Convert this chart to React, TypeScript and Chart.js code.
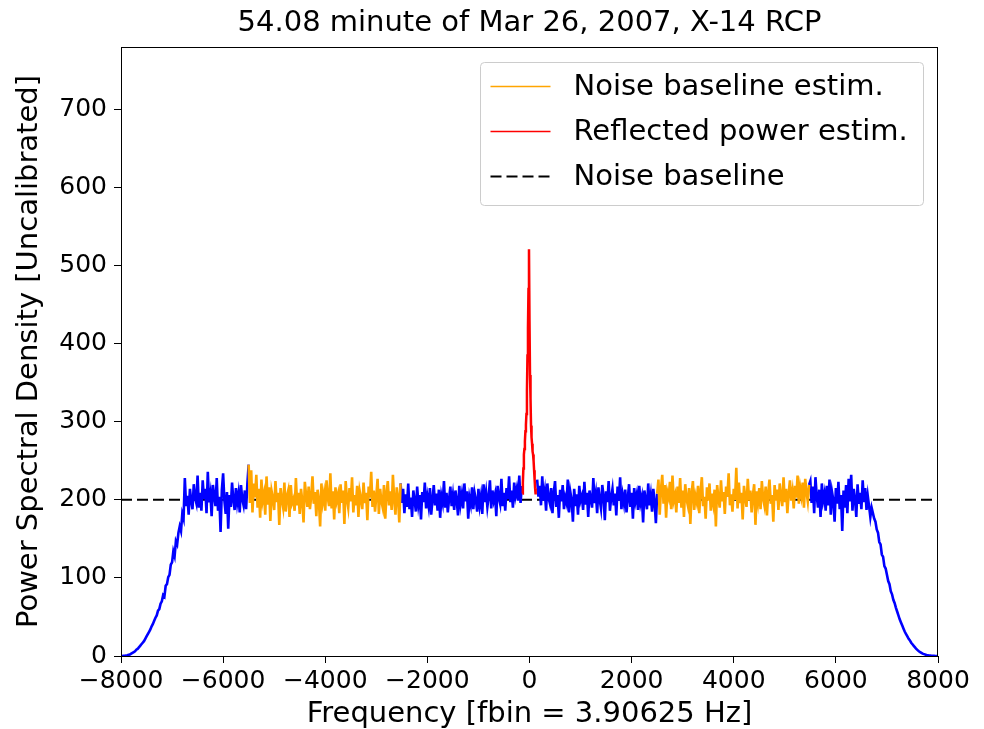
import React, { useEffect, useRef } from "react";
import { Chart, registerables } from "chart.js";

Chart.register(...registerables);

// ---- data ----
const FREQ_STEP = 25; // Hz between plotted samples
const RED_STEP = 10;

const leftRollStart = -8000;
const leftRoll = [0, 0, 0.2, 0.4, 0.7, 1, 1.5, 2, 3, 4,
  5, 6, 8, 9, 11, 13, 15, 17, 19, 22,
  25, 28, 31, 34, 38, 41, 45, 49, 52, 58,
  60, 67, 70, 78, 76, 90, 92, 101, 104, 117,
  120, 134, 128, 147, 143, 158, 166, 160, 182, 176];

const leftBlueStart = -6750;
const leftBlue = [228, 192, 205, 181, 214, 199, 188, 220, 203, 196,
  231, 190, 209, 186, 225, 201, 214, 183, 236, 197,
  208, 179, 219, 205, 192, 228, 186, 204, 159, 213,
  234, 199, 182, 210, 163, 206, 191, 222, 200, 187,
  215, 196, 208, 184, 219, 201, 193, 212, 188, 221];

const leftOrangeStart = -5500;
const leftOrange = [245, 196, 238, 184, 221, 203, 232, 190, 214, 177,
  226, 199, 208, 181, 230, 194, 216, 173, 211, 202,
  187, 224, 197, 209, 168, 215, 200, 190, 222, 185,
  205, 212, 178, 219, 196, 201, 186, 228, 193, 209,
  182, 214, 199, 171, 223, 206, 191, 217, 188, 204,
  230, 195, 210, 179, 213, 200, 166, 221, 197, 208,
  186, 225, 203, 192, 234, 189, 211, 175, 216, 199,
  207, 183, 220, 196, 212, 169, 224, 201, 190, 215,
  198, 229, 184, 206, 193, 218, 178, 211, 202, 188,
  222, 196, 209, 174, 217, 203, 236, 191, 212, 185,
  205, 227, 182, 214, 198, 190, 219, 176, 208, 224,
  193, 211, 187, 232, 200, 181, 216, 204, 171, 221];

const centerLeftStart = -2500;
const centerLeftBlue = [196, 214, 183, 207, 191, 221, 188, 203, 178, 212,
  199, 185, 217, 194, 206, 175, 210, 197, 222, 189,
  204, 192, 215, 181, 200, 219, 193, 208, 186, 213,
  177, 205, 196, 224, 190, 209, 184, 201, 217, 192,
  206, 187, 212, 199, 180, 218, 195, 207, 189, 221,
  198, 211, 176, 203, 194, 216, 188, 209, 200, 185,
  214, 193, 205, 182, 220, 197, 210, 191, 204, 225,
  189, 212, 199, 207, 179, 218, 203, 195, 227, 192,
  209, 186, 215, 201, 230, 197, 212, 190, 222, 205,
  214, 199, 231, 196, 218];

const redStart = -140;
const redPeak = [208, 222, 240, 258, 265, 275, 288, 296, 310, 340,
  385, 420, 470, 521, 430, 360, 330, 295, 280, 272,
  262, 258, 250, 238, 226, 215, 207];

const centerRightStart = 150;
const centerRightBlue = [226, 204, 218, 193, 230, 199, 211, 186, 221, 202,
  195, 215, 183, 209, 224, 191, 206, 177, 213, 198,
  219, 188, 203, 196, 226, 184, 210, 200, 172, 214,
  192, 207, 181, 218, 199, 205, 187, 223, 194, 209,
  178, 212, 201, 190, 228, 196, 208, 183, 216, 200,
  189, 219, 205, 174, 211, 197, 224, 186, 203, 214,
  193, 208, 180, 217, 199, 229, 188, 206, 195, 213,
  184, 202, 220, 191, 209, 176, 215, 198, 207, 187,
  218, 196, 204, 171, 212, 200, 188, 221, 193, 206,
  185, 214, 197, 170];

const rightOrangeStart = 2500;
const rightOrange = [208, 226, 181, 214, 232, 195, 219, 177, 210, 203,
  223, 188, 231, 199, 206, 184, 217, 196, 228, 190,
  212, 178, 220, 201, 193, 215, 169, 209, 224, 187,
  205, 197, 218, 183, 211, 229, 192, 204, 176, 216,
  199, 221, 186, 208, 195, 213, 166, 219, 202, 190,
  225, 198, 210, 182, 217, 204, 234, 193, 207, 185,
  214, 200, 241, 189, 222, 196, 209, 175, 218, 203,
  191, 227, 199, 212, 184, 206, 220, 168, 211, 197,
  215, 188, 224, 202, 193, 217, 180, 209, 226, 195,
  206, 172, 219, 199, 213, 187, 221, 204, 192, 229,
  197, 214, 183, 208, 225, 199, 211, 189, 218, 203,
  231, 195, 216, 205, 222, 190, 227, 210, 198, 219];

const rightBlueStart = 5500;
const rightBlue = [224, 196, 217, 183, 229, 205, 190, 213, 178, 221,
  199, 208, 186, 218, 193, 226, 181, 210, 200, 172,
  215, 195, 223, 188, 206, 160, 212, 190, 219, 183,
  227, 198, 232, 186, 214, 201, 178, 220, 195, 209,
  188, 225, 197, 215, 187, 205, 192, 178];

const rightRollStart = 6700;
const rightRoll = [190, 183, 176, 172, 162, 158, 146, 143, 130, 127,
  115, 112, 104, 96, 92, 83, 79, 72, 68, 62,
  57, 52, 47, 43, 39, 35, 31, 28, 25, 22,
  20, 17, 15, 13, 11, 9, 7.5, 6, 5, 4,
  3, 2.4, 1.8, 1.3, 1, 0.7, 0.5, 0.3, 0.2, 0.1,
  0, 0, 0];

const baselineLevel = 200;
const legendLabels = ["Noise baseline estim.", "Reflected power estim.", "Noise baseline"];
const xTicks = [-8000, -6000, -4000, -2000, 0, 2000, 4000, 6000, 8000];
const yTicks = [0, 100, 200, 300, 400, 500, 600, 700];
const xLimits = [-8000, 8000];
const yLimits = [0, 780];

const titleText = "54.08 minute of Mar 26, 2007, X-14 RCP";
const xLabel = "Frequency [fbin = 3.90625 Hz]";
const yLabel = "Power Spectral Density [Uncalibrated]";

// ---- helpers ----
type Pt = { x: number; y: number | null };
const toPoints = (start: number, step: number, values: number[]): Pt[] =>
  values.map((v, i) => ({ x: start + i * step, y: v }));
const GAP = (x: number): Pt => ({ x, y: null });

const FONT = "'DejaVu Sans', 'Liberation Sans', sans-serif";

const frameAndLegend = {
  id: "frameAndLegend",
  afterDatasetsDraw(chart: any) {
    const { ctx, chartArea } = chart;
    ctx.save();
    ctx.strokeStyle = "#000";
    ctx.lineWidth = 1;
    ctx.strokeRect(
      Math.round(chartArea.left) + 0.5,
      Math.round(chartArea.top) + 0.5,
      Math.round(chartArea.right - chartArea.left) - 1,
      Math.round(chartArea.bottom - chartArea.top)
    );
    ctx.restore();
  },
  afterDraw(chart: any) {
    const { ctx, chartArea } = chart;
    const w = 443;
    const h = 143;
    const x = Math.round(chartArea.right - 15 - w) + 0.5;
    const y = Math.round(chartArea.top + 15) + 0.5;
    ctx.save();
    const r = 4;
    ctx.beginPath();
    ctx.moveTo(x + r, y);
    ctx.lineTo(x + w - r, y);
    ctx.arcTo(x + w, y, x + w, y + r, r);
    ctx.lineTo(x + w, y + h - r);
    ctx.arcTo(x + w, y + h, x + w - r, y + h, r);
    ctx.lineTo(x + r, y + h);
    ctx.arcTo(x, y + h, x, y + h - r, r);
    ctx.lineTo(x, y + r);
    ctx.arcTo(x, y, x + r, y, r);
    ctx.closePath();
    ctx.fillStyle = "rgba(255,255,255,0.8)";
    ctx.fill();
    ctx.strokeStyle = "#cccccc";
    ctx.lineWidth = 1;
    ctx.stroke();

    const items = chart.data.datasets
      .filter((d: any) => legendLabels.includes(d.label))
      .sort((a: any, b: any) => legendLabels.indexOf(a.label) - legendLabels.indexOf(b.label));
    items.forEach((d: any, i: number) => {
      const ry = y + 24 + i * 45;
      ctx.beginPath();
      ctx.setLineDash(d.borderDash || []);
      ctx.strokeStyle = d.borderColor;
      ctx.lineWidth = d.borderDash ? 2 : 1.5;
      ctx.moveTo(x + 10, ry);
      ctx.lineTo(x + 70, ry);
      ctx.stroke();
      ctx.setLineDash([]);
      ctx.fillStyle = "#000";
      ctx.font = `29px ${FONT}`;
      ctx.textBaseline = "middle";
      ctx.textAlign = "left";
      ctx.fillText(d.label, x + 93, ry + 1);
    });
    ctx.restore();
  },
};

export default function App() {
  const ref = useRef<HTMLCanvasElement | null>(null);

  useEffect(() => {
    if (!ref.current) return;
    const leftOrangePts = toPoints(leftOrangeStart, FREQ_STEP, leftOrange);
    const rightOrangePts = toPoints(rightOrangeStart, FREQ_STEP, rightOrange);
    const bluePts: Pt[] = [
      ...toPoints(leftRollStart, FREQ_STEP, leftRoll),
      ...toPoints(leftBlueStart, FREQ_STEP, leftBlue),
      leftOrangePts[0],
      GAP(-4000),
      leftOrangePts[leftOrangePts.length - 1],
      ...toPoints(centerLeftStart, FREQ_STEP, centerLeftBlue),
      GAP(0),
      ...toPoints(centerRightStart, FREQ_STEP, centerRightBlue),
      rightOrangePts[0],
      GAP(4000),
      rightOrangePts[rightOrangePts.length - 1],
      ...toPoints(rightBlueStart, FREQ_STEP, rightBlue),
      ...toPoints(rightRollStart, FREQ_STEP, rightRoll),
    ];
    const orangePts: Pt[] = [...leftOrangePts, GAP(0), ...rightOrangePts];
    const redPts = toPoints(redStart, RED_STEP, redPeak);
    const basePts = [
      { x: xLimits[0], y: baselineLevel },
      { x: xLimits[1], y: baselineLevel },
    ];

    const common = {
      pointRadius: 0,
      pointHoverRadius: 0,
      tension: 0,
      fill: false,
      spanGaps: false,
      borderJoinStyle: "miter" as const,
    };

    const chart = new Chart(ref.current, {
      type: "line",
      data: {
        datasets: [
          { ...common, label: legendLabels[1], data: redPts, borderColor: "#ff0000", borderWidth: 2.5, order: 0 },
          { ...common, label: legendLabels[0], data: orangePts, borderColor: "#ffa500", borderWidth: 2.6, order: 1 },
          { ...common, label: "PSD", data: bluePts, borderColor: "#0000ff", borderWidth: 2.6, order: 2 },
          { ...common, label: legendLabels[2], data: basePts, borderColor: "#000000", borderWidth: 2, borderDash: [11, 5], order: 3 },
        ],
      },
      options: {
        animation: false,
        responsive: false,
        maintainAspectRatio: false,
        events: [],
        layout: { padding: { left: 0, right: 0, top: 0, bottom: 0 } },
        plugins: {
          legend: { display: false },
          tooltip: { enabled: false },
          title: {
            display: true,
            fullSize: false,
            text: titleText,
            color: "#000",
            font: { family: FONT, size: 29, weight: "normal", lineHeight: 1.2 },
            padding: { top: 6, bottom: 6.2 },
          },
        },
        scales: {
          x: {
            type: "linear",
            min: xLimits[0],
            max: xLimits[1],
            afterBuildTicks: (scale: any) => {
              scale.ticks = xTicks.map((v) => ({ value: v }));
            },
            afterFit: (scale: any) => {
              scale.height = 73;
              scale.paddingRight = 46;
              scale.paddingLeft = 0;
            },
            border: { display: false },
            grid: { drawOnChartArea: false, drawTicks: true, tickLength: 7, tickColor: "#000", lineWidth: 1 },
            ticks: {
              color: "#000",
              font: { family: FONT, size: 25 },
              padding: 3,
              maxRotation: 0,
              autoSkip: false,
              callback: (v: any) => (Number(v) < 0 ? "\u2212" + Math.abs(Number(v)) : String(v)),
            },
            title: {
              display: true,
              text: xLabel,
              color: "#000",
              font: { family: FONT, size: 29, lineHeight: 1 },
              padding: { top: 0, bottom: 0 },
            },
          },
          y: {
            type: "linear",
            min: yLimits[0],
            max: yLimits[1],
            afterBuildTicks: (scale: any) => {
              scale.ticks = yTicks.map((v) => ({ value: v }));
            },
            afterFit: (scale: any) => {
              scale.width = 121;
              scale.paddingTop = 0;
              scale.paddingBottom = 0;
            },
            border: { display: false },
            grid: { drawOnChartArea: false, drawTicks: true, tickLength: 7, tickColor: "#000", lineWidth: 1 },
            ticks: {
              color: "#000",
              font: { family: FONT, size: 25 },
              padding: 7,
              autoSkip: false,
            },
            title: {
              display: true,
              text: yLabel,
              color: "#000",
              font: { family: FONT, size: 29, lineHeight: 1.2 },
              padding: { top: 12, bottom: 0 },
            },
          },
        },
      },
      plugins: [frameAndLegend],
    });
    return () => chart.destroy();
  }, []);

  return (
    <div style={{ position: "absolute", left: 0, top: 0, width: 984, height: 729, background: "#fff" }}>
      <canvas ref={ref} width={984} height={729} style={{ display: "block" }} />
    </div>
  );
}
